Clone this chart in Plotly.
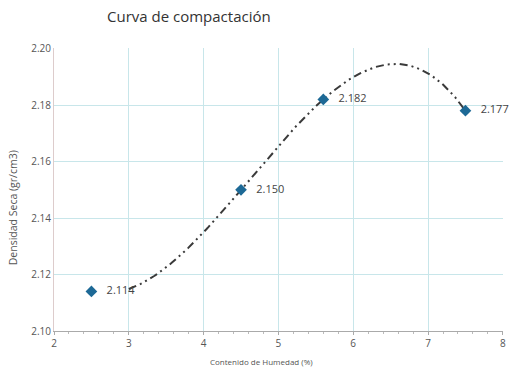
import numpy as np
import plotly.graph_objects as go

humedad = [2.5, 4.5, 5.6, 7.5]
densidad = [2.114, 2.150, 2.182, 2.178]
etiquetas = ["2.114", "2.150", "2.182", "2.177"]
x_ticks = [2, 3, 4, 5, 6, 7, 8]
y_ticks = [2.10, 2.12, 2.14, 2.16, 2.18, 2.20]

coef = np.polyfit(humedad, densidad, 3)
xc = np.linspace(3.0, 7.5, 200)
yc = np.polyval(coef, xc)

fig = go.Figure()
fig.add_trace(go.Scatter(
    x=xc, y=yc, mode="lines",
    line=dict(color="#3a3a3a", width=2, dash="8px,4px,2px,4px,2px,4px"),
    hoverinfo="skip", showlegend=False))
fig.add_trace(go.Scatter(
    x=humedad, y=densidad, mode="markers+text",
    marker=dict(symbol="diamond", size=9, color="#1d6996"),
    text=["   " + t for t in etiquetas], textposition="middle right",
    textfont=dict(size=11, color="#444", family="Open Sans"),
    cliponaxis=False, showlegend=False))

L, R, T, B = 54, 7, 48, 39
pw = 513 - L - R
ph = 370 - T - B

fig.update_layout(
    width=513, height=370,
    margin=dict(l=L, r=R, t=T, b=B),
    paper_bgcolor="white", plot_bgcolor="white",
    font=dict(family="Open Sans", color="#555"),
    title=dict(text="Curva de compactación", x=107/513, xanchor="left",
               y=1-17/370, yanchor="middle", yref="container",
               pad=dict(l=0, r=0, t=0, b=0),
               font=dict(size=15, color="#333", family="Open Sans")),
    xaxis=dict(range=[2, 8.002], tickvals=x_ticks, showgrid=True,
               gridcolor="#c8e6ea", gridwidth=1, zeroline=False,
               showline=True, linecolor="#aaa", ticks="outside",
               ticklen=3, tickcolor="#aaa",
               minor=dict(ticks="outside", ticklen=2, tickcolor="#bbb", dtick=0.2),
               tickfont=dict(size=10, color="#555")),
    yaxis=dict(range=[2.10, 2.2002], tickvals=y_ticks, tickformat=".2f",
               showgrid=True, gridcolor="#c8e6ea", gridwidth=1,
               zeroline=False, showline=True, linecolor="#dcc",
               ticks="", tickfont=dict(size=10, color="#555")),
    annotations=[
        dict(text="Densidad Seca (gr/cm3)", x=(13 - L) / pw,
             y=(370 - B - 208) / ph,
             xref="paper", yref="paper", textangle=-90, showarrow=False,
             font=dict(size=10.5, color="#555"), xanchor="center", yanchor="middle"),
        dict(text="Contenido de Humedad (%)", x=(263 - L) / pw,
             y=(370 - B - 362) / ph,
             xref="paper", yref="paper", showarrow=False,
             font=dict(size=8, color="#555"), xanchor="center", yanchor="middle"),
    ],
)

fig.write_html("out.html", config={"displayModeBar": False},
               post_script="document.body.style.margin='0';document.body.style.padding='0';")
